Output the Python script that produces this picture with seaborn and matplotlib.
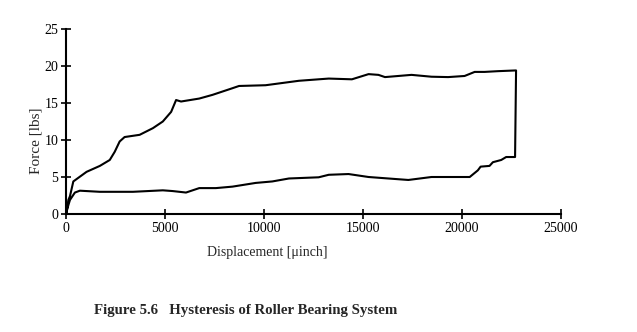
import matplotlib
matplotlib.use("Agg")
import matplotlib.pyplot as plt
import pandas as pd
import seaborn as sns

# Loading branch (displacement in µinch, force in lbs)
load_disp = [0, 30, 120, 200, 370, 1040, 1710, 2210, 2460, 2710, 2960, 3720, 4390,
             4890, 5310, 5560, 5810, 6730, 7400, 8410, 8740, 10080, 11760, 12760,
             13270, 14440, 14860, 15280, 15780, 16110, 16780, 17450, 18460, 19300,
             20130, 20640, 21140, 21810, 22730]
load_force = [0.0, 0.3, 1.9, 2.4, 4.4, 5.7, 6.5, 7.3, 8.4, 9.8, 10.4, 10.7, 11.6,
              12.5, 13.8, 15.4, 15.2, 15.6, 16.1, 17.0, 17.3, 17.4, 18.0, 18.2,
              18.3, 18.2, 18.55, 18.9, 18.8, 18.5, 18.65, 18.8, 18.55, 18.5,
              18.65, 19.2, 19.2, 19.3, 19.4]

# Unloading branch
unload_disp = [22680, 22230, 21980, 21560, 21390, 20940, 20800, 20390, 19300, 18460,
               17290, 16780, 15280, 14270, 13270, 12760, 11260, 10420, 9580, 8410,
               7570, 6730, 6060, 5390, 4890, 3380, 1710, 700, 450, 200, 120, 0]
unload_force = [7.7, 7.7, 7.3, 7.0, 6.5, 6.4, 5.9, 5.0, 5.0, 5.0, 4.6, 4.7, 5.0, 5.4,
                5.3, 4.96, 4.8, 4.4, 4.2, 3.7, 3.5, 3.5, 2.9, 3.1, 3.2, 3.0, 3.0,
                3.15, 2.9, 1.9, 1.2, 0.0]

x_ticks = [0, 5000, 10000, 15000, 20000, 25000]
y_ticks = [0, 5, 10, 15, 20, 25]

df = pd.DataFrame({
    "disp": load_disp + unload_disp,
    "force": load_force + unload_force,
    "order": range(len(load_disp) + len(unload_disp)),
})

sns.set_style("ticks")
plt.rcParams["font.family"] = ["Liberation Serif", "DejaVu Serif"]

fig = plt.figure(figsize=(6.37, 3.32), dpi=100)
ax = fig.add_axes([0.1036, 0.3554, 0.7771, 0.5573])

sns.lineplot(data=df, x="disp", y="force", sort=False, estimator=None,
             color="black", linewidth=1.5, ax=ax)

ax.set_xlim(0, 25000)
ax.set_ylim(0, 25)
ax.set_xticks(x_ticks)
ax.set_yticks(y_ticks)
ax.set_xticklabels([str(t) for t in x_ticks], fontsize=10)
ax.set_yticklabels([str(t) for t in y_ticks], fontsize=10)
ax.tick_params(direction="inout", length=7, width=1.2, pad=2, colors="black")
for side in ("top", "right"):
    ax.spines[side].set_visible(False)
for side in ("left", "bottom"):
    ax.spines[side].set_linewidth(1.5)
    ax.spines[side].set_color("black")

ax.set_xlabel("Displacement [μinch]", fontsize=10)
ax.xaxis.set_label_coords(0.406, -0.175)
ax.set_ylabel("Force [lbs]", fontsize=11)
ax.yaxis.set_label_coords(-0.048, 0.395)

fig.text(0.386, 0.065, "Figure 5.6   Hysteresis of Roller Bearing System",
         ha="center", va="center", fontsize=10.7, fontweight="bold")

fig.savefig("out.png", dpi=100, facecolor="white")
